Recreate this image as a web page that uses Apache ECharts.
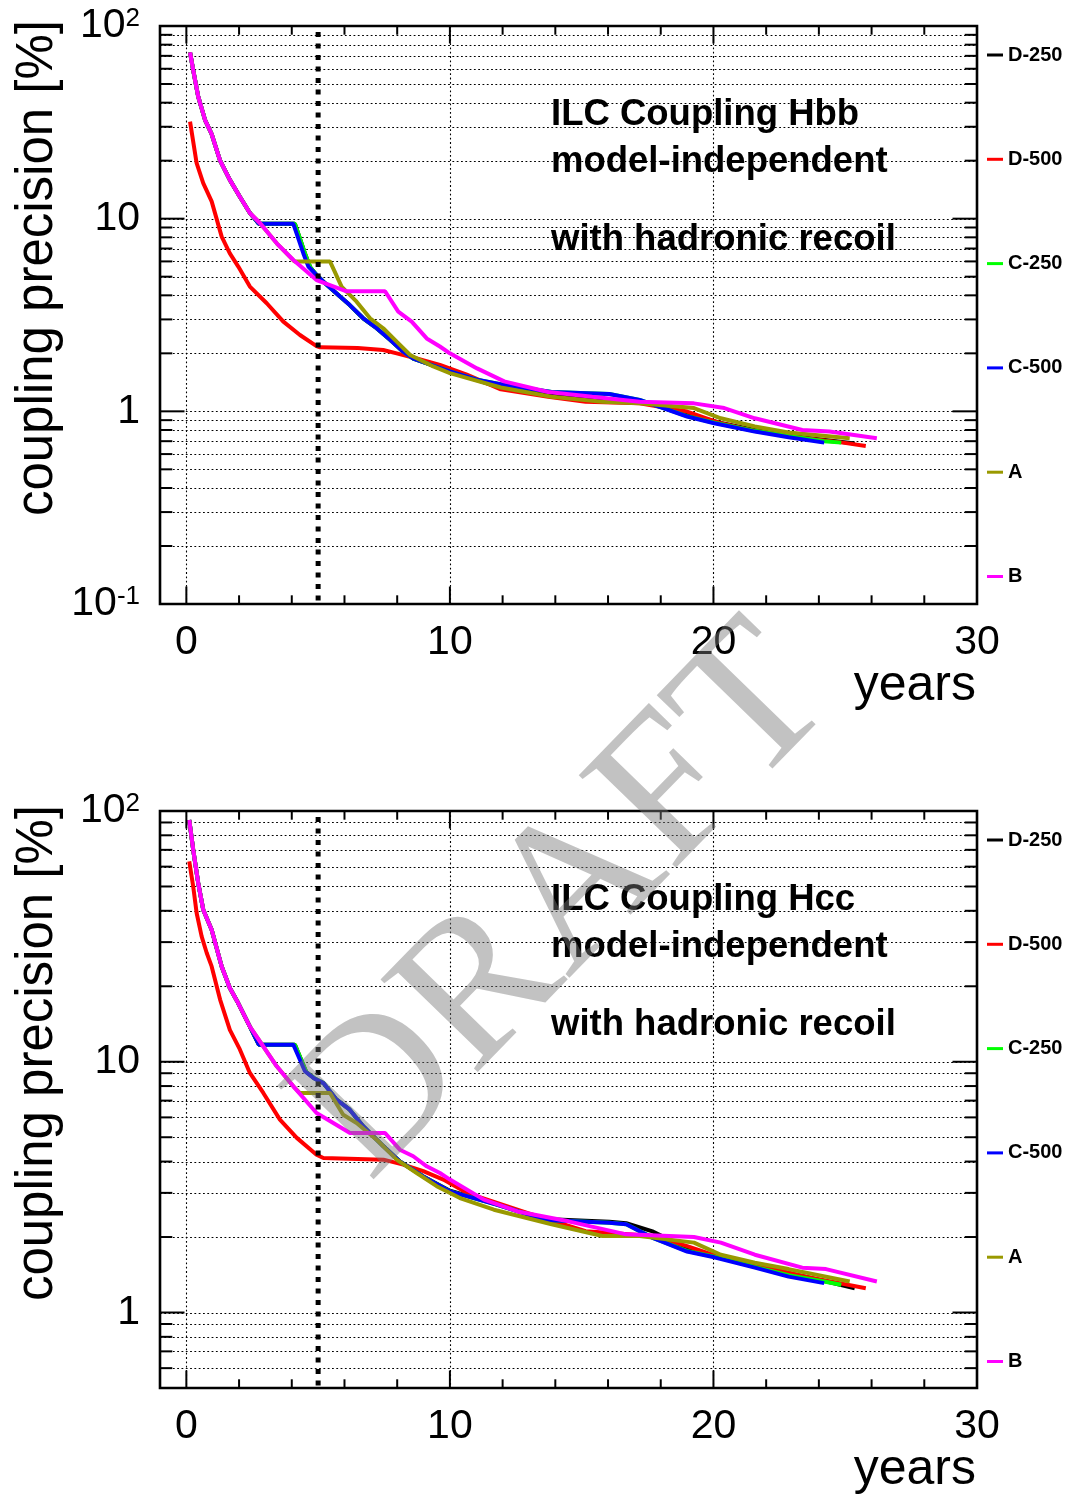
<!DOCTYPE html>
<html>
<head>
<meta charset="utf-8">
<script src="https://cdn.jsdelivr.net/npm/echarts@6/dist/echarts.min.js"></script>
<style>
  html, body { margin: 0; padding: 0; background: #fff; }
  #chart { width: 1067px; height: 1497px; }
</style>
</head>
<body>
<div id="chart"></div>
<script>
// ---- scenario labels and colours ----
const scenarioNames = ['D-250', 'D-500', 'C-250', 'C-500', 'A', 'B'];
const scenarioColors = ['#000000', '#ff0000', '#00ff00', '#0000ff', '#999900', '#ff00ff'];

// ---- Hbb coupling precision [%] vs. years ----
const hbbD250 = [[0.14,73],[0.26,59],[0.45,43],[0.71,32.5],[0.96,27.5],[1.28,20],[1.65,15.9],[2.03,13],[2.41,10.7],[2.75,9.4],[4.12,9.4],[4.5,6.6],[4.7,5.6],[4.94,5.1],[5.2,4.71],[5.83,3.94],[6.2,3.56],[6.71,3.04],[7.22,2.7],[7.73,2.35],[8.23,2.04],[8.61,1.88],[10.0,1.61],[11.93,1.33],[13.73,1.22],[15.4,1.16],[17.2,1.13],[19.0,0.97],[20.28,0.87],[21.57,0.80],[23.5,0.73],[25.36,0.68]];
const hbbD500 = [[0.14,31.9],[0.39,19.4],[0.64,15.3],[0.96,12.3],[1.34,8.07],[1.65,6.6],[1.97,5.64],[2.41,4.44],[3.05,3.64],[3.68,2.92],[4.31,2.49],[4.94,2.18],[5.07,2.15],[6.5,2.13],[7.47,2.08],[7.98,2.0],[8.74,1.88],[9.62,1.74],[10.64,1.55],[11.93,1.30],[13.73,1.19],[15.15,1.12],[17.2,1.10],[19.0,0.997],[20.28,0.867],[21.57,0.79],[23.5,0.725],[24.91,0.688],[25.78,0.66]];
const hbbC250 = [[0.14,73],[0.26,59],[0.45,43],[0.71,32.5],[0.96,27.5],[1.28,20],[1.65,15.9],[2.03,13],[2.41,10.7],[2.75,9.4],[4.12,9.4],[4.5,6.6],[4.7,5.6],[4.94,5.1],[5.2,4.71],[5.83,3.94],[6.2,3.56],[6.71,3.04],[7.22,2.7],[7.73,2.35],[8.23,2.04],[8.61,1.88],[10.0,1.61],[11.03,1.46],[12.06,1.37],[13.86,1.26],[16.05,1.23],[17.2,1.146],[19.0,0.945],[20.03,0.872],[21.57,0.792],[22.85,0.745],[24.2,0.70],[24.85,0.688]];
const hbbC500 = [[0.14,73],[0.26,59],[0.45,43],[0.71,32.5],[0.96,27.5],[1.28,20],[1.65,15.9],[2.03,13],[2.41,10.7],[2.75,9.4],[4.06,9.4],[4.44,6.6],[4.63,5.64],[4.94,5.1],[5.2,4.71],[5.83,3.94],[6.2,3.56],[6.71,3.04],[7.22,2.7],[7.73,2.35],[8.23,2.04],[8.61,1.88],[10.0,1.61],[11.03,1.46],[12.06,1.37],[13.86,1.26],[16.05,1.23],[17.2,1.146],[19.0,0.94],[20.03,0.867],[21.57,0.785],[22.85,0.734],[24.2,0.688]];
const hbbA = [[0.14,73],[0.26,59],[0.45,43],[0.71,32.5],[0.96,27.5],[1.28,20],[1.65,15.9],[2.03,13],[2.41,10.7],[2.79,9.5],[3.43,7.45],[4.1,6.0],[5.45,6.0],[5.89,4.44],[6.46,3.71],[6.97,3.04],[7.47,2.7],[7.98,2.3],[8.49,1.96],[9.37,1.71],[10.0,1.58],[11.93,1.33],[13.86,1.19],[15.79,1.12],[17.2,1.10],[19.26,1.04],[20.28,0.92],[21.57,0.834],[22.85,0.776],[25.17,0.725]];
const hbbB = [[0.14,73],[0.26,59],[0.45,43],[0.71,32.5],[0.96,27.5],[1.28,20],[1.65,15.9],[2.03,13],[2.41,10.7],[2.79,9.5],[3.43,7.45],[4.06,6.1],[4.94,4.8],[6.08,4.2],[7.54,4.2],[8.04,3.29],[8.55,2.92],[9.12,2.39],[9.62,2.17],[10.0,2.0],[11.03,1.67],[12.06,1.43],[13.73,1.26],[15.4,1.19],[17.2,1.12],[19.26,1.10],[20.41,1.04],[21.57,0.92],[23.37,0.80],[24.4,0.785],[26.2,0.725]];

// ---- Hcc coupling precision [%] vs. years ----
const hccD250 = [[0.11,92],[0.26,70],[0.45,51.6],[0.64,40.4],[0.96,33.6],[1.34,24],[1.65,19.7],[1.97,17.1],[2.41,13.8],[2.75,11.7],[4.12,11.7],[4.55,9.1],[4.85,8.6],[5.2,8.22],[5.7,7.06],[6.2,6.44],[6.71,5.53],[7.48,4.6],[8.1,4.0],[8.99,3.49],[10.0,3.06],[11.8,2.70],[13.6,2.36],[16.05,2.3],[16.69,2.27],[17.72,2.1],[19.0,1.80],[20.28,1.66],[21.57,1.53],[23.5,1.39],[25.36,1.25]];
const hccD500 = [[0.11,63],[0.26,50],[0.39,39.2],[0.58,31.6],[0.77,27.2],[0.96,24],[1.28,17.7],[1.65,13.4],[2.03,11.2],[2.41,9.02],[2.92,7.51],[3.55,5.88],[4.19,4.97],[4.94,4.26],[5.2,4.13],[7.48,4.07],[8.23,3.89],[8.99,3.66],[9.75,3.39],[10.64,3.0],[12.96,2.49],[15.15,2.11],[17.72,2.02],[19.0,1.84],[20.28,1.66],[21.57,1.55],[23.5,1.39],[25.78,1.25]];
const hccC250 = [[0.11,92],[0.26,70],[0.45,51.6],[0.64,40.4],[0.96,33.6],[1.34,24],[1.65,19.7],[1.97,17.1],[2.41,13.8],[2.75,11.7],[4.12,11.7],[4.55,9.1],[4.85,8.6],[5.2,8.22],[5.7,7.06],[6.2,6.44],[6.71,5.53],[7.48,4.6],[8.1,4.0],[8.99,3.49],[10.0,3.04],[11.8,2.69],[13.6,2.34],[16.05,2.28],[16.69,2.25],[17.72,1.98],[19.0,1.76],[20.03,1.67],[21.57,1.52],[22.85,1.41],[24.2,1.33],[24.85,1.29]];
const hccC500 = [[0.11,92],[0.26,70],[0.45,51.6],[0.64,40.4],[0.96,33.6],[1.34,24],[1.65,19.7],[1.97,17.1],[2.41,13.8],[2.75,11.7],[4.06,11.7],[4.5,9.17],[4.82,8.62],[5.2,8.22],[5.7,7.06],[6.2,6.44],[6.71,5.53],[7.48,4.6],[8.1,4.0],[8.99,3.49],[10.0,3.04],[11.8,2.69],[13.6,2.34],[16.05,2.28],[16.69,2.25],[17.72,1.98],[19.0,1.75],[20.03,1.66],[21.57,1.51],[22.85,1.39],[24.2,1.31]];
const hccA = [[0.11,92],[0.26,70],[0.45,51.6],[0.64,40.4],[0.96,33.6],[1.34,24],[1.65,19.7],[1.97,17.1],[2.41,13.8],[2.79,12.05],[3.43,9.59],[4.06,7.98],[4.3,7.51],[5.45,7.51],[5.95,6.15],[6.46,5.7],[7.22,4.89],[7.98,4.07],[8.74,3.6],[9.5,3.19],[10.38,2.86],[11.67,2.57],[13.86,2.25],[15.79,2.02],[17.2,2.02],[19.26,1.90],[20.28,1.70],[21.57,1.58],[22.85,1.49],[25.17,1.33]];
const hccB = [[0.11,92],[0.26,70],[0.45,51.6],[0.64,40.4],[0.96,33.6],[1.34,24],[1.65,19.7],[1.97,17.1],[2.41,13.8],[2.79,12.05],[3.43,9.59],[4.06,7.98],[4.94,6.25],[6.21,5.2],[7.54,5.2],[8.1,4.46],[8.61,4.2],[9.12,3.83],[9.62,3.6],[10.0,3.39],[11.29,2.82],[12.57,2.53],[14.5,2.31],[16.69,2.05],[19.26,2.0],[20.28,1.90],[21.57,1.70],[23.37,1.51],[24.27,1.49],[26.2,1.33]];

// ---- axis ranges and tick values ----
const yearRange = [-1, 30];
const xMajorTicks = [0, 10, 20, 30];
const xMinorTicks = [2, 4, 6, 8, 12, 14, 16, 18, 22, 24, 26, 28];
const xGridYears = [0, 10, 20];
const stageBoundaryYear = 5;
const panelTitles = [
  ['ILC Coupling Hbb', 'model-independent', 'with hadronic recoil'],
  ['ILC Coupling Hcc', 'model-independent', 'with hadronic recoil']
];
const panelYRanges = [[0.1, 100], [0.5, 100]];
const panelCurves = [
  [hbbD250, hbbD500, hbbC250, hbbC500, hbbA, hbbB],
  [hccD250, hccD500, hccC250, hccC500, hccA, hccB]
];
const yAxisTitle = 'coupling precision [%]';
const xAxisTitle = 'years';

// ---- layout ----
const SANS = '"Liberation Sans", Arial, Helvetica, sans-serif';
const SERIF = '"Liberation Serif", "Times New Roman", Times, serif';
const plotLeft = 160, plotWidth = 817;
const plotTops = [26, 811];
const plotHeights = [578, 577];

// every 1..9 x 10^n value within [lo, hi]
function logTickValues(lo, hi) {
  const out = [];
  for (let d = Math.floor(Math.log10(lo)); d <= Math.ceil(Math.log10(hi)); d++) {
    for (let m = 1; m <= 9; m++) {
      const v = m * Math.pow(10, d);
      if (v >= lo * 0.9999 && v <= hi * 1.0001) out.push({ v: v, major: m === 1 });
    }
  }
  return out;
}

// dotted grid lines below the curves
function gridRenderer(yr) {
  return function (params, api) {
    const cs = params.coordSys;
    const left = cs.x, right = cs.x + cs.width, top = cs.y, bottom = cs.y + cs.height;
    const dotted = { stroke: '#000', lineWidth: 1.1, lineDash: [1.8, 2.5], fill: null };
    const children = [];
    logTickValues(yr[0], yr[1]).forEach(function (t) {
      if (t.v <= yr[0] * 1.0001 || t.v >= yr[1] * 0.9999) return;
      const y = Math.round(api.coord([0, t.v])[1]) + 0.5;
      children.push({ type: 'line', silent: true, shape: { x1: left, y1: y, x2: right, y2: y }, style: dotted });
    });
    xGridYears.forEach(function (yrv) {
      const x = Math.round(api.coord([yrv, yr[1]])[0]) + 0.5;
      children.push({ type: 'line', silent: true, shape: { x1: x, y1: top, x2: x, y2: bottom }, style: dotted });
    });
    return { type: 'group', children: children };
  };
}

// frame, tick marks and the stage boundary drawn over the curves
function frameRenderer(yr) {
  return function (params, api) {
    const cs = params.coordSys;
    const left = cs.x, right = cs.x + cs.width, top = cs.y, bottom = cs.y + cs.height;
    const tickStyle = { stroke: '#000', lineWidth: 2, fill: null };
    const children = [];
    const sx = api.coord([stageBoundaryYear, yr[1]])[0];
    children.push({ type: 'line', silent: true, shape: { x1: sx, y1: top + 6, x2: sx, y2: bottom },
      style: { stroke: '#000', lineWidth: 5, lineDash: [5, 6.5], fill: null } });
    logTickValues(yr[0], yr[1]).forEach(function (t) {
      const y = api.coord([0, t.v])[1];
      const len = t.major ? 24.5 : 12.3;
      children.push({ type: 'line', silent: true, shape: { x1: left, y1: y, x2: left + len, y2: y }, style: tickStyle });
      children.push({ type: 'line', silent: true, shape: { x1: right, y1: y, x2: right - len, y2: y }, style: tickStyle });
    });
    const xt = xMajorTicks.map(function (v) { return { v: v, len: 17.5 }; })
      .concat(xMinorTicks.map(function (v) { return { v: v, len: 8.7 }; }));
    xt.forEach(function (t) {
      const x = api.coord([t.v, yr[1]])[0];
      children.push({ type: 'line', silent: true, shape: { x1: x, y1: bottom, x2: x, y2: bottom - t.len }, style: tickStyle });
      children.push({ type: 'line', silent: true, shape: { x1: x, y1: top, x2: x, y2: top + t.len }, style: tickStyle });
    });
    children.push({ type: 'rect', silent: true, shape: { x: left, y: top, width: right - left, height: bottom - top },
      style: { stroke: '#000', lineWidth: 2.6, fill: null } });
    return { type: 'group', children: children };
  };
}

function powerLabel(v) {
  const e = Math.log10(v);
  const r = Math.round(e);
  if (Math.abs(e - r) > 1e-6) return '';
  if (r === 0) return '{n|1}';
  if (r === 1) return '{n|10}';
  return '{n|10}{s|' + r + '}';
}

const grids = [], xAxes = [], yAxes = [], series = [], legends = [], graphics = [];

panelCurves.forEach(function (curves, i) {
  const yr = panelYRanges[i];
  const top = plotTops[i], h = plotHeights[i];
  grids.push({ left: plotLeft, top: top, width: plotWidth, height: h, containLabel: false, outerBoundsMode: 'none' });
  xAxes.push({
    type: 'value', gridIndex: i, min: yearRange[0], max: yearRange[1], interval: 1,
    axisLine: { show: false }, axisTick: { show: false }, splitLine: { show: false },
    axisLabel: {
      margin: 18, fontSize: 41, lineHeight: 41, fontFamily: SANS, color: '#000',
      showMinLabel: true, showMaxLabel: true,
      formatter: function (v) { return (Math.round(v) % 10 === 0 && Math.round(v) >= 0) ? String(Math.round(v)) : ''; }
    }
  });
  yAxes.push({
    type: 'log', logBase: 10, gridIndex: i, min: yr[0], max: yr[1],
    axisLine: { show: false }, axisTick: { show: false }, splitLine: { show: false },
    axisLabel: {
      margin: 20, fontFamily: SANS, color: '#000', showMinLabel: true, showMaxLabel: true,
      formatter: powerLabel,
      rich: {
        n: { fontSize: 41, lineHeight: 41, fontFamily: SANS, color: '#000' },
        s: { fontSize: 26, lineHeight: 26, fontFamily: SANS, color: '#000', verticalAlign: 'top' }
      }
    }
  });
  series.push({
    type: 'custom', name: 'grid' + i, xAxisIndex: i, yAxisIndex: i, z: 1, silent: true,
    renderItem: gridRenderer(yr), data: [[0, yr[1]]], animation: false
  });
  curves.forEach(function (data, k) {
    series.push({
      type: 'line', name: scenarioNames[k], xAxisIndex: i, yAxisIndex: i, data: data,
      showSymbol: false, symbol: 'none', z: 3 + k * 0.01, clip: true, silent: true,
      lineStyle: { color: scenarioColors[k], width: 4 }, itemStyle: { color: scenarioColors[k] },
      emphasis: { disabled: true }, animation: false
    });
  });
  series.push({
    type: 'custom', name: 'frame' + i, xAxisIndex: i, yAxisIndex: i, z: 5, silent: true,
    renderItem: frameRenderer(yr), data: [[0, yr[1]]], animation: false
  });
  legends.push({
    orient: 'vertical', left: 987, top: top + 19, padding: 0, itemGap: 84.3,
    itemWidth: 16, itemHeight: 3, icon: 'rect', selectedMode: false,
    data: scenarioNames,
    textStyle: { fontSize: 20, lineHeight: 20, fontWeight: 'bold', fontFamily: SANS, color: '#000' }
  });
  // panel caption
  const capOffsets = [89, 136, 214];
  panelTitles[i].forEach(function (line, j) {
    graphics.push({ type: 'text', x: 551, y: top + capOffsets[j], z: 50, silent: true,
      style: { text: line, fontSize: 36.5, fontWeight: 'bold', fontFamily: SANS, fill: '#000', align: 'left', verticalAlign: 'middle' } });
  });
  // axis titles
  graphics.push({ type: 'text', x: 38, y: top - 6, rotation: Math.PI / 2, z: 50, silent: true,
    style: { text: yAxisTitle, fontSize: 51, fontFamily: SANS, fill: '#000', align: 'right', verticalAlign: 'middle' } });
  graphics.push({ type: 'text', x: 976, y: top + h + 82, z: 50, silent: true,
    style: { text: xAxisTitle, fontSize: 50, fontFamily: SANS, fill: '#000', align: 'right', verticalAlign: 'middle' } });
});

// draft watermark across both panels
graphics.push({ type: 'text', x: 565, y: 905, rotation: 0.8, z: 100, silent: true,
  style: { text: 'DRAFT', fontSize: 205, fontFamily: SERIF, fill: 'rgba(120,120,120,0.45)', align: 'center', verticalAlign: 'middle' } });

const chart = echarts.init(document.getElementById('chart'), null, { renderer: 'canvas' });
chart.setOption({
  animation: false,
  backgroundColor: '#ffffff',
  grid: grids,
  xAxis: xAxes,
  yAxis: yAxes,
  legend: legends,
  series: series,
  graphic: graphics
});
</script>
</body>
</html>
